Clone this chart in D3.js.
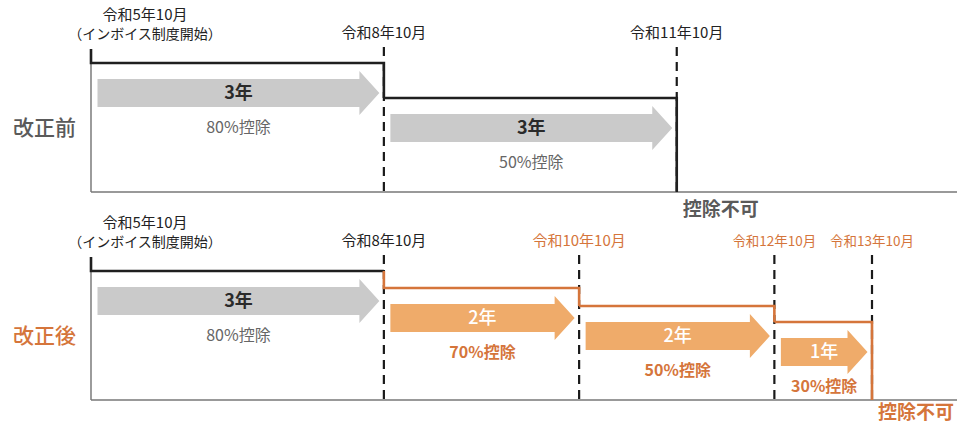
<!DOCTYPE html>
<html>
<head>
<meta charset="utf-8">
<script src="https://cdn.jsdelivr.net/npm/d3@7"></script>
<style>
  body { margin: 0; background: #ffffff; }
  text { font-family: "Noto Sans CJK JP", "Noto Sans", sans-serif; }
</style>
</head>
<body>
<script>
// data: 令和 years of each boundary, deduction rates, durations
var panelNames = ["改正前", "改正後"];
var beforeDates = [5, 8, 11];
var beforeRates = [80, 50];
var beforeSpans = ["3年", "3年"];
var afterDates = [5, 8, 10, 12, 13];
var afterRates = [80, 70, 50, 30];
var afterSpans = ["3年", "2年", "2年", "1年"];
var startNote = "（インボイス制度開始）";
var endLabel = "控除不可";

var width = 957;
var height = 427;
var grey = "#5a5a5a";
var orange = "#d5753b";
var arrowGrey = "#cacaca";
var arrowOrange = "#efab6a";

var svg = d3.select("body")
  .append("svg")
  .attr("width", width)
  .attr("height", height);

var x = d3.scaleLinear().domain([5, 13]).range([91, 872]);
// height of each rate above the panel baseline (schematic, not proportional)
var level = d3.scaleLinear().domain([0, 30, 50, 70, 80]).range([0, 78, 94, 112, 129]);

var panels = [
  { name: panelNames[0], dates: beforeDates, rates: beforeRates, spans: beforeSpans, base: 192, labelY: 33, nameColor: grey, endColor: grey, endDy: 17 },
  { name: panelNames[1], dates: afterDates, rates: afterRates, spans: afterSpans, base: 400, labelY: 241, nameColor: orange, endColor: orange, endDy: 12 }
];

function arrowPath(x0, x1, cy) {
  var sh = 14, hh = 22, hl = 20;
  return "M" + x0 + "," + (cy - sh) +
    "L" + (x1 - hl) + "," + (cy - sh) +
    "L" + (x1 - hl) + "," + (cy - hh) +
    "L" + x1 + "," + cy +
    "L" + (x1 - hl) + "," + (cy + hh) +
    "L" + (x1 - hl) + "," + (cy + sh) +
    "L" + x0 + "," + (cy + sh) + "Z";
}

panels.forEach(function (p, pi) {
  var g = svg.append("g");
  var yOf = function (r) { return p.base - level(r); };
  var topY = yOf(p.rates[0]) - 14;
  var last = p.dates[p.dates.length - 1];

  // panel name
  g.append("text")
    .attr("x", 13)
    .attr("y", p.base - 64)
    .attr("dy", "0.35em")
    .attr("font-size", 21)
    .attr("font-weight", 500)
    .attr("fill", p.nameColor)
    .text(p.name);

  // frame: left edge and baseline
  g.append("line")
    .attr("x1", x(p.dates[0])).attr("x2", x(p.dates[0]))
    .attr("y1", yOf(p.rates[0])).attr("y2", p.base)
    .attr("stroke", "#666").attr("stroke-width", 1.3);
  g.append("line")
    .attr("x1", x(p.dates[0])).attr("x2", width)
    .attr("y1", p.base).attr("y2", p.base)
    .attr("stroke", "#777").attr("stroke-width", 1.5);

  // dashed date markers
  g.selectAll("line.mark")
    .data(p.dates.slice(1))
    .enter()
    .append("line")
    .classed("mark", true)
    .attr("x1", function (d) { return x(d); })
    .attr("x2", function (d) { return x(d); })
    .attr("y1", topY - 2)
    .attr("y2", p.base)
    .attr("stroke", "#1a1a1a")
    .attr("stroke-width", 2.2)
    .attr("stroke-dasharray", "9 6");

  // date labels (shrunk where neighbours are only a year apart)
  var tight = function (d, i) {
    var prev = p.dates[i - 1], next = p.dates[i + 1];
    return (prev !== undefined && d - prev < 2) || (next !== undefined && next - d < 2);
  };
  g.selectAll("text.date")
    .data(p.dates)
    .enter()
    .append("text")
    .classed("date", true)
    .attr("x", function (d, i) { return i == 0 ? x(d) + 54 : x(d); })
    .attr("y", function (d, i) { return i == 0 ? p.labelY - 18 : p.labelY; })
    .attr("dy", "0.35em")
    .attr("text-anchor", "middle")
    .attr("font-size", function (d, i) { return tight(d, i) ? 13.5 : 15; })
    .attr("fill", function (d) { return pi == 1 && d >= 10 ? orange : "#222"; })
    .text(function (d) { return "令和" + d + "年10月"; });
  g.append("text")
    .attr("x", x(p.dates[0]) + 54)
    .attr("y", p.labelY + 1)
    .attr("dy", "0.35em")
    .attr("text-anchor", "middle")
    .attr("font-size", 14)
    .attr("fill", "#222")
    .text(startNote);

  // arrows
  var segs = p.rates.map(function (r, i) {
    return { rate: r, span: p.spans[i], x0: x(p.dates[i]), x1: x(p.dates[i + 1]), cy: yOf(r) + 30, i: i };
  });
  var isOrange = function (d) { return pi == 1 && d.i > 0; };
  g.selectAll("path.arrow")
    .data(segs)
    .enter()
    .append("path")
    .classed("arrow", true)
    .attr("d", function (d) { return arrowPath(d.x0 + 6.5, d.x1 - 4.5, d.cy); })
    .attr("fill", function (d) { return isOrange(d) ? arrowOrange : arrowGrey; });
  g.selectAll("text.span")
    .data(segs)
    .enter()
    .append("text")
    .classed("span", true)
    .attr("x", function (d) { return (d.x0 + d.x1 + 2) / 2; })
    .attr("y", function (d) { return d.cy; })
    .attr("dy", "0.36em")
    .attr("text-anchor", "middle")
    .attr("font-size", 18)
    .attr("font-weight", function (d) { return isOrange(d) ? 500 : 700; })
    .attr("fill", function (d) { return isOrange(d) ? "#ffffff" : "#2a2a2a"; })
    .text(function (d) { return d.span; });
  g.selectAll("text.rate")
    .data(segs)
    .enter()
    .append("text")
    .classed("rate", true)
    .attr("x", function (d) { return (d.x0 + d.x1 + 2) / 2; })
    .attr("y", function (d) { return d.cy + 34; })
    .attr("dy", "0.36em")
    .attr("text-anchor", "middle")
    .attr("font-size", 16)
    .attr("font-weight", function (d) { return isOrange(d) ? 700 : 400; })
    .attr("fill", function (d) { return isOrange(d) ? orange : "#666"; })
    .text(function (d) { return d.rate + "%控除"; });

  // step line
  var steps = segs.map(function (d) {
    return { pts: [[d.x0, yOf(d.rate)], [d.x1, yOf(d.rate)], [d.x1, d.i == segs.length - 1 ? p.base : yOf(p.rates[d.i + 1])]], i: d.i };
  });
  steps[0].pts.unshift([x(p.dates[0]), topY]);
  var line = d3.line();
  g.selectAll("path.step")
    .data(steps)
    .enter()
    .append("path")
    .classed("step", true)
    .attr("d", function (d) {
      var pts = d.pts;
      if (pi == 1 && d.i == 0) pts = pts.slice(0, pts.length - 1);
      if (pi == 1 && d.i == 1) pts = [[d.pts[0][0], yOf(p.rates[0])]].concat(pts);
      return line(pts);
    })
    .attr("fill", "none")
    .attr("stroke", function (d) { return pi == 1 && d.i > 0 ? orange : "#1f1f1f"; })
    .attr("stroke-width", 2.6)
    .attr("stroke-linejoin", "miter");

  // end label
  g.append("text")
    .attr("x", x(last) + 44)
    .attr("y", p.base + p.endDy)
    .attr("dy", "0.35em")
    .attr("text-anchor", "middle")
    .attr("font-size", 19)
    .attr("font-weight", 700)
    .attr("fill", p.endColor)
    .text(endLabel);
});
</script>
</body>
</html>
